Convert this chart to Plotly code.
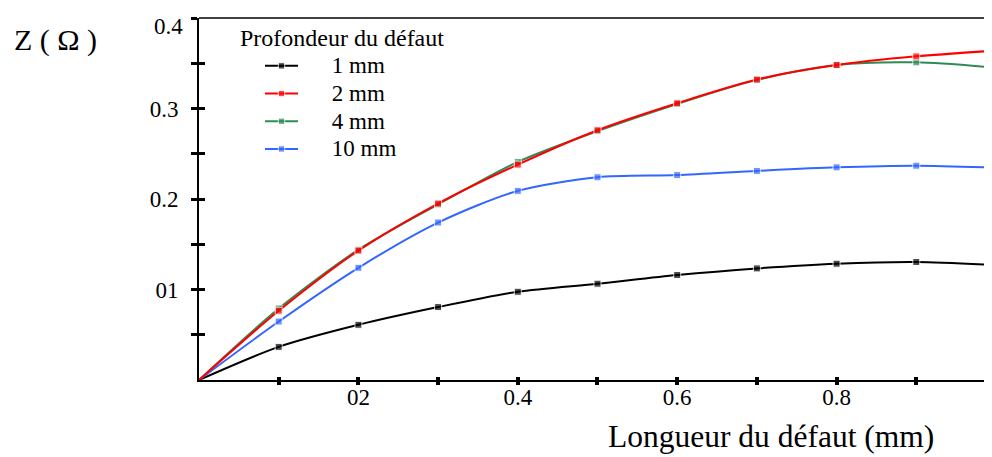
import plotly.graph_objects as go

# ---- data ----
longueur = [0.0, 0.1, 0.2, 0.3, 0.4, 0.5, 0.6, 0.7, 0.8, 0.9, 1.0]
z_1mm = [0.0, 0.0366, 0.061, 0.0806, 0.0975, 0.1064, 0.116, 0.1233, 0.1285, 0.1304, 0.127]
z_2mm = [0.0, 0.0765, 0.143, 0.195, 0.238, 0.276, 0.3058, 0.332, 0.348, 0.3576, 0.364]
z_4mm = [0.0, 0.079, 0.144, 0.194, 0.241, 0.275, 0.305, 0.3316, 0.348, 0.351, 0.345]
z_10mm = [0.0, 0.0646, 0.124, 0.174, 0.209, 0.224, 0.2264, 0.231, 0.235, 0.2368, 0.2345]

series_names = ["1 mm", "2 mm", "4 mm", "10 mm"]
series_colors = ["#000000", "#ff0000", "#2e8b57", "#3366ff"]

x_tickvals = [0.1, 0.2, 0.3, 0.4, 0.5, 0.6, 0.7, 0.8, 0.9]
x_ticktext = ["", "02", "", "0.4", "", "0.6", "", "0.8", ""]
y_tickvals = [0.05, 0.1, 0.15, 0.2, 0.25, 0.3, 0.35, 0.4]
y_ticktext = ["", "01", "", "0.2", "", "0.3", "", ""]
y_top_label = "0.4"  # drawn just below its tick, as in the reference

x_title = "Longueur du défaut (mm)"
y_title = "Z ( Ω )"
legend_title = "Profondeur du défaut"

FONT = "Liberation Serif, Times New Roman, serif"
W, H = 992, 457
OFF = 8  # page body margin
L, R, T, B = 199, 992, 18, 380  # target plot area in screen pixels


def px(xp):
    return (xp - L) / (R - L)


def py(yp):
    return (B - yp) / (B - T)


fig = go.Figure()
values = {"1 mm": z_1mm, "2 mm": z_2mm, "4 mm": z_4mm, "10 mm": z_10mm}
draw_order = ["1 mm", "10 mm", "4 mm", "2 mm"]
pad = "\u00a0" * 5
for name in draw_order:
    i = series_names.index(name)
    ys = values[name]
    sizes = [0] + [7] * (len(ys) - 1)
    fig.add_trace(go.Scatter(
        x=longueur, y=ys, mode="lines+markers",
        name="<span style='font-size:23px'>" + pad + name + "</span>",
        legendrank=i + 1,
        line=dict(color=series_colors[i], width=2, shape="spline", smoothing=0.8),
        marker=dict(symbol="square", size=sizes, color=series_colors[i]),
        cliponaxis=True,
    ))

# dummy trace so the overlay axes (inner half of crossing ticks) are drawn
fig.add_trace(go.Scatter(x=[None], y=[None], xaxis="x2", yaxis="y2",
                         showlegend=False, hoverinfo="skip"))

xr = [0, 0.995]
yr = [0, 0.4]
fig.update_layout(
    width=W, height=H,
    margin=dict(l=L - OFF, r=W - (R - OFF), t=T - OFF, b=H - (B - OFF), autoexpand=False),
    paper_bgcolor="white", plot_bgcolor="white",
    font=dict(family=FONT, color="black", size=23),
    showlegend=True,
    legend=dict(
        xref="paper", yref="paper",
        x=px(260), y=py(47), xanchor="left", yanchor="top",
        font=dict(family=FONT, size=19, color="black"),
        bgcolor="rgba(0,0,0,0)", itemwidth=33,
    ),
    xaxis=dict(
        range=xr, showgrid=False, zeroline=False,
        showline=True, linecolor="black", linewidth=2,
        tickmode="array", tickvals=x_tickvals, ticktext=x_ticktext,
        ticks="outside", ticklen=3, tickwidth=4, tickcolor="black",
        tickfont=dict(family=FONT, size=23), ticklabelstandoff=-8,
        ticklabeloverflow="allow",
    ),
    yaxis=dict(
        range=yr, showgrid=False, zeroline=False,
        showline=True, linecolor="black", linewidth=2,
        tickmode="array", tickvals=y_tickvals, ticktext=y_ticktext,
        ticks="outside", ticklen=6, tickwidth=3, tickcolor="black",
        tickfont=dict(family=FONT, size=23), ticklabelstandoff=8,
        ticklabeloverflow="allow",
    ),
    xaxis2=dict(
        range=xr, overlaying="x", showgrid=False, zeroline=False,
        showline=False, tickmode="array", tickvals=x_tickvals,
        ticks="inside", ticklen=3, tickwidth=4, tickcolor="black",
        showticklabels=False,
    ),
    yaxis2=dict(
        range=yr, overlaying="y", showgrid=False, zeroline=False,
        showline=False, tickmode="array", tickvals=y_tickvals,
        ticks="inside", ticklen=6, tickwidth=3, tickcolor="black",
        showticklabels=False,
    ),
    shapes=[dict(type="line", xref="paper", yref="paper", x0=0, x1=1, y0=1, y1=1,
                 line=dict(color="black", width=1.5))],
    annotations=[
        dict(text=y_top_label, xref="paper", yref="paper", x=px(185), y=py(26),
             xanchor="right", yanchor="middle", showarrow=False,
             font=dict(family=FONT, size=23, color="black")),
        dict(text=y_title, xref="paper", yref="paper", x=px(12), y=py(40),
             xanchor="left", yanchor="middle", showarrow=False,
             font=dict(family=FONT, size=30, color="black")),
        dict(text=x_title, xref="paper", yref="paper", x=px(771), y=py(436),
             xanchor="center", yanchor="middle", showarrow=False,
             font=dict(family=FONT, size=31.5, color="black")),
        dict(text=legend_title, xref="paper", yref="paper", x=px(238), y=py(38),
             xanchor="left", yanchor="middle", showarrow=False,
             font=dict(family=FONT, size=24, color="black")),
    ],
)

fig.write_html("out.html")
